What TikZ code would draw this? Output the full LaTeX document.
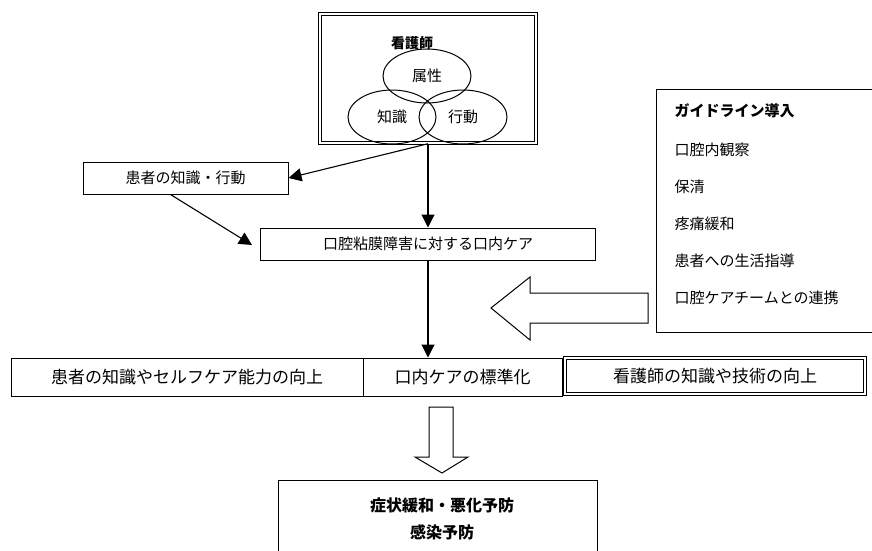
\documentclass[tikz,border=0pt]{standalone}
\usepackage{fontspec}
\setmainfont{Noto Sans CJK JP}
\usetikzlibrary{shapes.geometric,arrows.meta,calc}

\tikzset{
  box/.style={draw, line width=1pt, minimum height=32pt, inner sep=0pt},
  dbox/.style={draw, double, double distance=1.8pt, line width=1.5pt, inner sep=0pt},
  circ/.style={draw, ellipse, line width=1pt, minimum width=88pt, minimum height=54pt, inner sep=0pt},
  arr/.style={line width=1.1pt, -{Triangle[length=13pt,width=13pt]}},
  hollow/.style={draw, line width=1pt, fill=white},
  txt/.style={font=\fontsize{15}{18}\selectfont},
  bigtxt/.style={font=\fontsize{17}{20}\selectfont},
  head/.style={font=\bfseries\fontsize{15}{18}\selectfont},
}

\begin{document}
\begin{tikzpicture}[x=1pt,y=-1pt]
  \useasboundingbox (0,0) rectangle (872,551);

  % Nurse frame
  \node[dbox, minimum width=216pt, minimum height=129pt] (nurse) at (428,78.5) {};
  \node[head, font=\bfseries\fontsize{14}{16}\selectfont] (title) at (412,43) {看護師};
  \node[circ, txt] (attr) at (427,76) {属性};
  \node[circ, txt] (know) at (392,117) {知識};
  \node[circ, txt] (act) at (463,117) {行動};

  % Care boxes
  \node[box, txt, minimum width=205pt] (pk) at (185.5,178) {患者の知識・行動};
  \node[box, txt, minimum width=335pt] (care) at (428,244) {口腔粘膜障害に対する口内ケア};

  % Arrows
  \draw[arr] (nurse.south) -- (pk.east);
  \draw[arr] (nurse.south) -- (care.north);
  \draw[arr] ($(pk.south)+(-15,0)$) -- ($(care.west)+(-8,1)$);

  % Guideline
  \draw[line width=1pt] (872,89) -- (656,89) -- (656,332) -- (872,332);
  \node[head, anchor=west] (gl) at (671,111) {ガイドライン導入};
  \foreach \t [count=\i] in {口腔内観察,保清,疼痛緩和,患者への生活指導,口腔ケアチームとの連携}
    \node[txt, anchor=west] (item\i) at (671,{113+37*\i}) {\t};
  \draw[hollow] (491,308) -- (530,277) -- (530,293) -- (648,293) -- (648,323)
    -- (530,323) -- (530,340) -- cycle;

  % Results row
  \node[box, bigtxt, minimum width=352pt, minimum height=38pt] (row1) at (187,377) {患者の知識やセルフケア能力の向上};
  \node[box, bigtxt, minimum width=199pt, minimum height=38pt] (row2) at (462.5,377) {口内ケアの標準化};
  \node[dbox, bigtxt, minimum width=300pt, minimum height=36pt] (row3) at (715,376) {看護師の知識や技術の向上};
  \draw[arr] (care.south) -- (care.south |- row1.north);

  % Outcome
  \draw[hollow] (429,407) -- (453,407) -- (453,457) -- (468,457) -- (442,473)
    -- (415,457) -- (429,457) -- cycle;
  \draw[line width=1pt] (278,551) -- (278,480) -- (597,480) -- (597,551);
  \node[head, font=\bfseries\fontsize{16}{18}\selectfont] (relief) at (442,505) {症状緩和・悪化予防};
  \node[head, font=\bfseries\fontsize{16}{18}\selectfont] (infect) at (442,532) {感染予防};
\end{tikzpicture}
\end{document}
